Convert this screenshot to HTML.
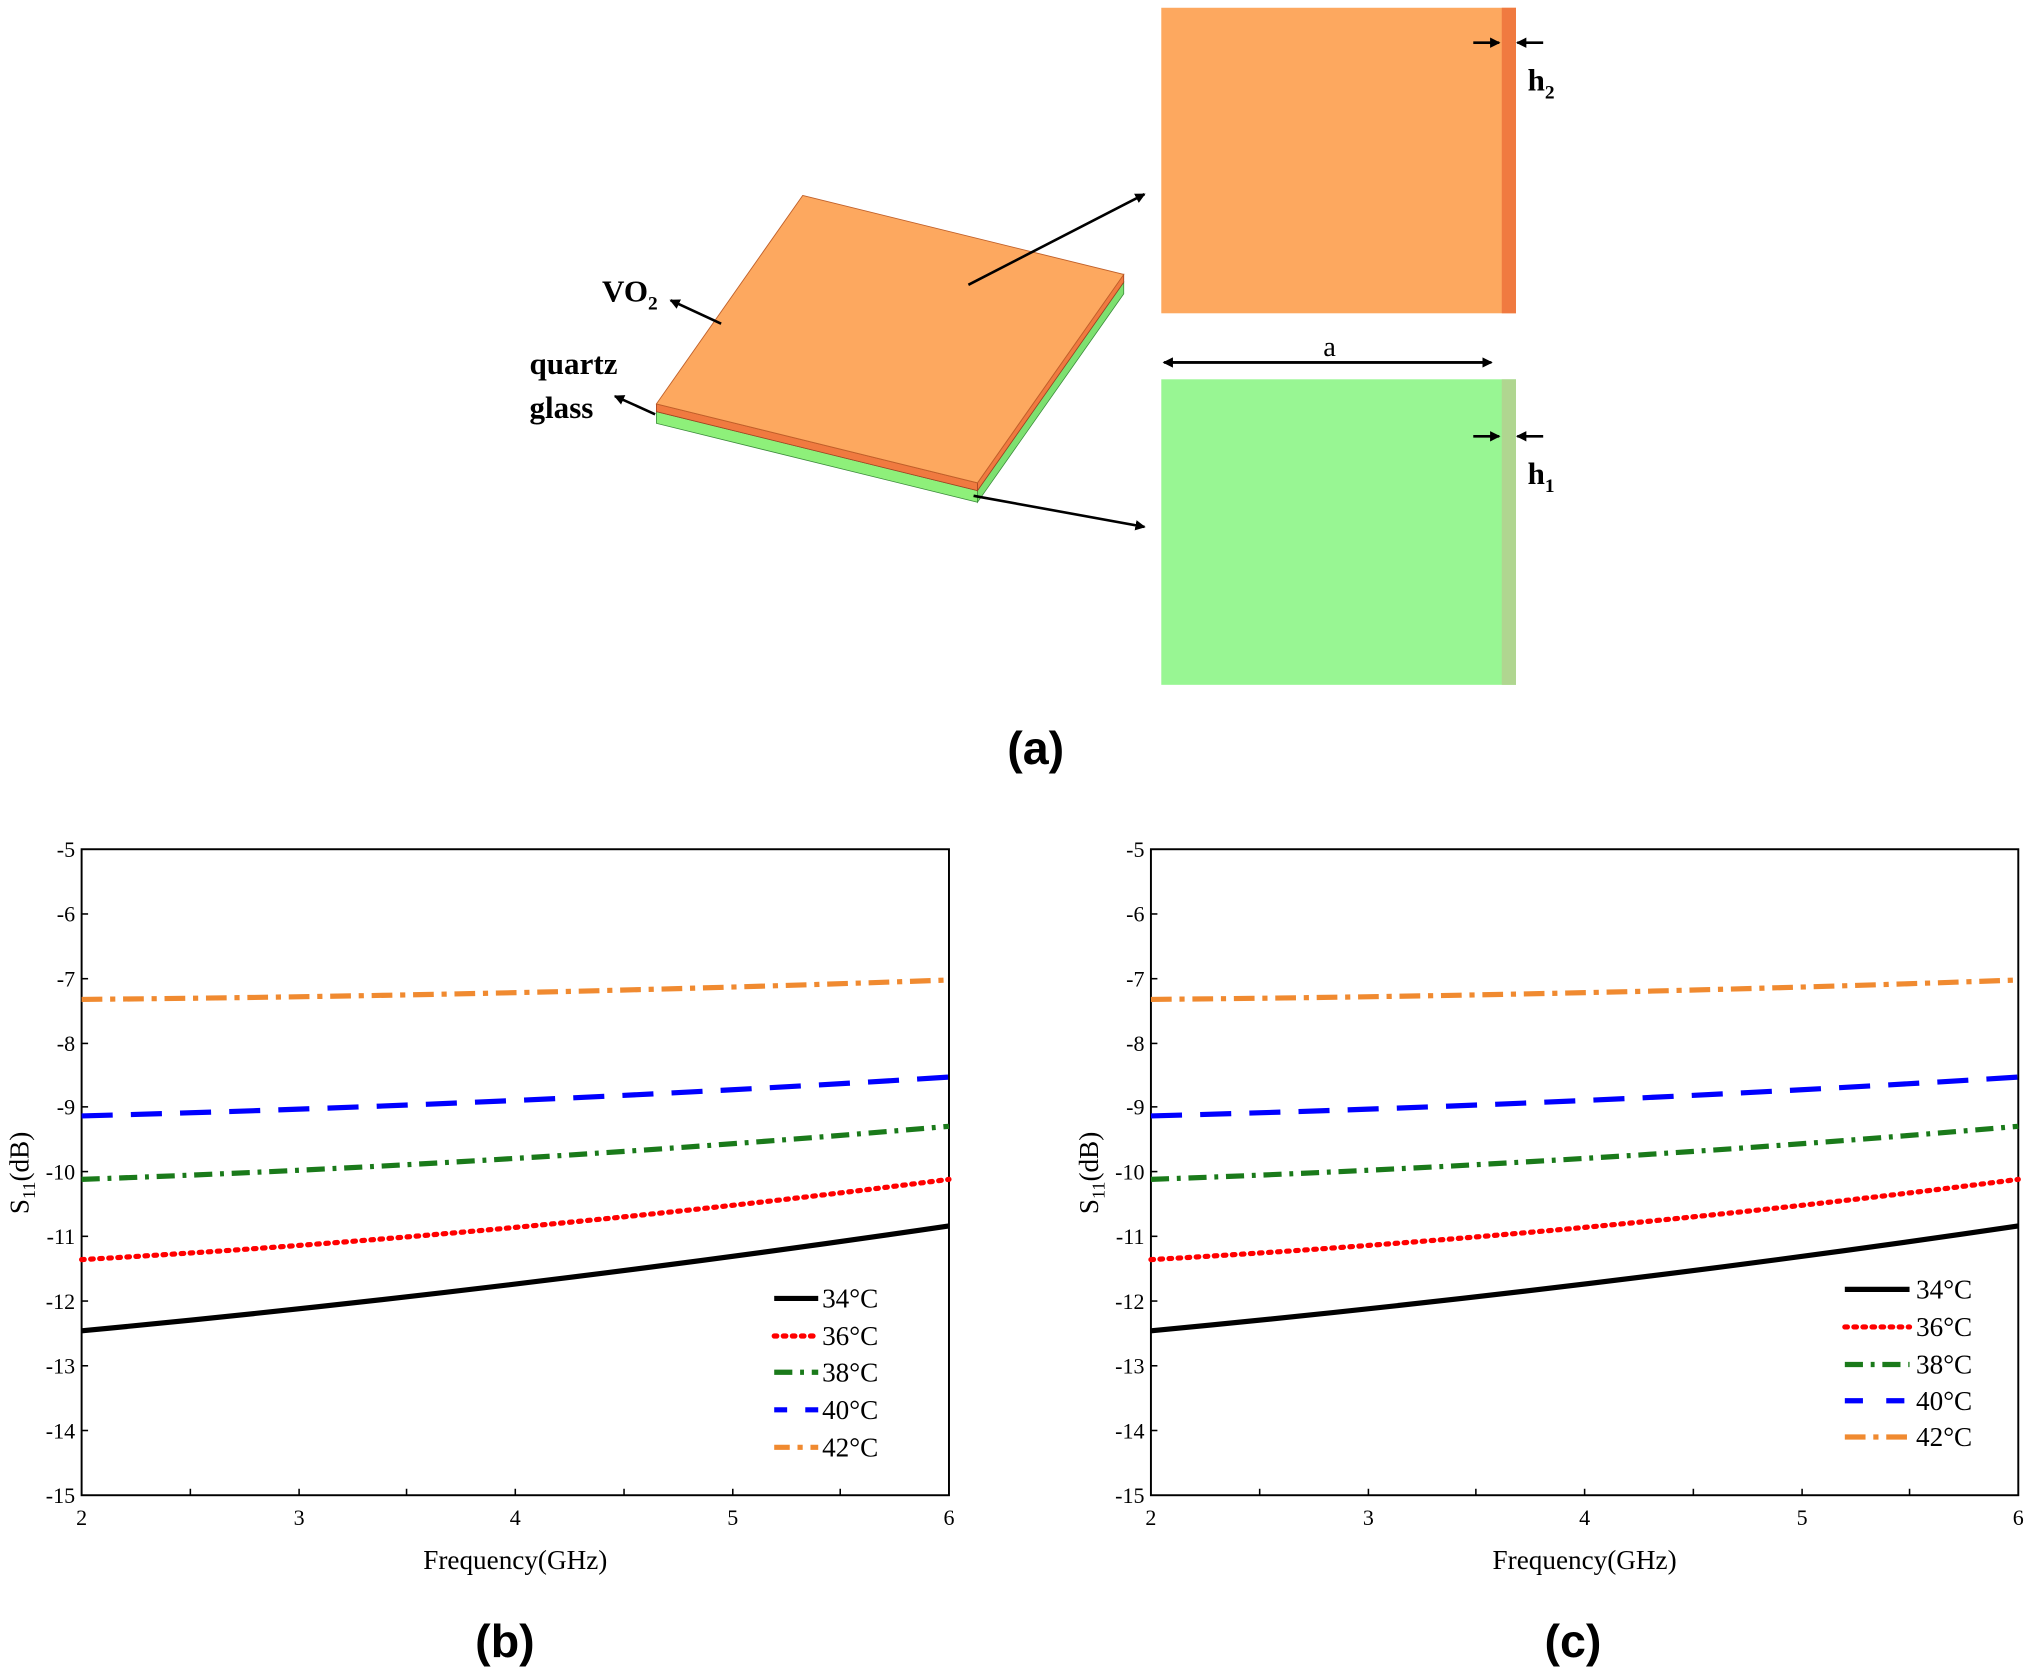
<!DOCTYPE html>
<html><head><meta charset="utf-8"><style>body{margin:0;background:#fff}svg{display:block}</style></head><body>
<svg width="2030" height="1670" viewBox="0 0 1568 1290" xmlns="http://www.w3.org/2000/svg" font-family="Liberation Serif, serif">
<defs>
<marker id="ar" markerWidth="8" markerHeight="8" refX="7" refY="4" orient="auto" markerUnits="userSpaceOnUse"><path d="M0,0 L8,4 L0,8 z" fill="#000"/></marker>
</defs>
<polygon points="507,318 755,379 755,388 507,327" fill="#8ef07a" stroke="#3a8a3a" stroke-width="0.6"/>
<polygon points="755,379 868,218 868,227 755,388" fill="#7de070" stroke="#3a8a3a" stroke-width="0.6"/>
<polygon points="507,312 755,373 755,379 507,318" fill="#f07a40" stroke="#a04020" stroke-width="0.6"/>
<polygon points="755,373 868,212 868,218 755,379" fill="#f07a40" stroke="#a04020" stroke-width="0.6"/>
<polygon points="620,151 868,212 755,373 507,312" fill="#fda85f" stroke="#c0602a" stroke-width="0.7"/>
<line x1="748" y1="220" x2="884" y2="150" stroke="#000" stroke-width="2" marker-end="url(#ar)"/>
<line x1="752" y1="383" x2="884" y2="407" stroke="#000" stroke-width="2" marker-end="url(#ar)"/>
<line x1="557" y1="250" x2="518" y2="232" stroke="#000" stroke-width="2" marker-end="url(#ar)"/>
<line x1="506" y1="320" x2="475" y2="306" stroke="#000" stroke-width="2" marker-end="url(#ar)"/>
<text x="465" y="233" font-size="24" font-weight="bold">VO<tspan font-size="15" dy="6">2</tspan></text>
<text x="409" y="289" font-size="24" font-weight="bold">quartz</text>
<text x="409" y="323" font-size="24" font-weight="bold">glass</text>
<rect x="897" y="6" width="274" height="236" fill="#fda85f"/>
<rect x="1160" y="6" width="11" height="236" fill="#f07a40"/>
<rect x="897" y="293" width="274" height="236" fill="#98f693"/>
<rect x="1160" y="293" width="11" height="236" fill="#b0d690"/>
<line x1="1138" y1="33" x2="1158" y2="33" stroke="#000" stroke-width="2" marker-end="url(#ar)"/>
<line x1="1192" y1="33" x2="1172" y2="33" stroke="#000" stroke-width="2" marker-end="url(#ar)"/>
<line x1="1138" y1="337" x2="1158" y2="337" stroke="#000" stroke-width="2" marker-end="url(#ar)"/>
<line x1="1192" y1="337" x2="1172" y2="337" stroke="#000" stroke-width="2" marker-end="url(#ar)"/>
<text x="1180" y="70" font-size="24" font-weight="bold">h<tspan font-size="15" dy="6">2</tspan></text>
<text x="1180" y="374" font-size="24" font-weight="bold">h<tspan font-size="15" dy="6">1</tspan></text>
<line x1="905" y1="280" x2="1152" y2="280" stroke="#000" stroke-width="2" marker-end="url(#ar)"/>
<line x1="1150" y1="280" x2="899" y2="280" stroke="#000" stroke-width="2" marker-end="url(#ar)"/>
<text x="1027" y="275" font-size="22" text-anchor="middle">a</text>
<text x="800" y="590" font-size="36" font-weight="bold" font-family="Liberation Sans, sans-serif" text-anchor="middle">(a)</text>
<text x="390" y="1280" font-size="36" font-weight="bold" font-family="Liberation Sans, sans-serif" text-anchor="middle">(b)</text>
<text x="1215" y="1280" font-size="36" font-weight="bold" font-family="Liberation Sans, sans-serif" text-anchor="middle">(c)</text>

<g id="pb">
<rect x="63" y="656" width="670" height="499" fill="none" stroke="#000" stroke-width="1.5"/>
<g stroke="#000" stroke-width="1.2">
<line x1="63" y1="706" x2="68" y2="706"/><line x1="63" y1="756" x2="68" y2="756"/><line x1="63" y1="806" x2="68" y2="806"/><line x1="63" y1="855" x2="68" y2="855"/><line x1="63" y1="905" x2="68" y2="905"/><line x1="63" y1="955" x2="68" y2="955"/><line x1="63" y1="1005" x2="68" y2="1005"/><line x1="63" y1="1055" x2="68" y2="1055"/><line x1="63" y1="1105" x2="68" y2="1105"/>
<line x1="147" y1="1155" x2="147" y2="1150"/><line x1="231" y1="1155" x2="231" y2="1150"/><line x1="314" y1="1155" x2="314" y2="1150"/><line x1="398" y1="1155" x2="398" y2="1150"/><line x1="482" y1="1155" x2="482" y2="1150"/><line x1="566" y1="1155" x2="566" y2="1150"/><line x1="649" y1="1155" x2="649" y2="1150"/>
</g>
<g font-size="17" text-anchor="end">
<text x="58" y="662">-5</text><text x="58" y="712">-6</text><text x="58" y="762">-7</text><text x="58" y="812">-8</text><text x="58" y="861">-9</text><text x="58" y="911">-10</text><text x="58" y="961">-11</text><text x="58" y="1011">-12</text><text x="58" y="1061">-13</text><text x="58" y="1111">-14</text><text x="58" y="1161">-15</text>
</g>
<g font-size="17" text-anchor="middle">
<text x="63" y="1178">2</text><text x="231" y="1178">3</text><text x="398" y="1178">4</text><text x="566" y="1178">5</text><text x="733" y="1178">6</text>
</g>
<text x="398" y="1212" font-size="21" text-anchor="middle">Frequency(GHz)</text>
<text transform="translate(22,906) rotate(-90)" font-size="21" text-anchor="middle">S<tspan font-size="14" dy="5">11</tspan><tspan dy="-5">(dB)</tspan></text>
<g fill="none" stroke-width="4">
<path d="M63,1028 Q400,996 733,947" stroke="#000"/>
<path d="M63,973 Q400,954 733,911" stroke="#f00" stroke-dasharray="2 5" stroke-linecap="round"/>
<path d="M63,911 Q400,899 733,870" stroke="#1a7a1a" stroke-dasharray="14 6 3 6"/>
<path d="M63,862 Q400,853 733,832" stroke="#00f" stroke-dasharray="24 14"/>
<path d="M63,772 Q400,769 733,757" stroke="#f08a30" stroke-dasharray="16 6 4 6"/>
</g>
</g>
<g fill="none" stroke-width="4">
<line x1="598" y1="1003" x2="632" y2="1003" stroke="#000"/>
<line x1="598" y1="1032" x2="632" y2="1032" stroke="#f00" stroke-dasharray="2 5" stroke-linecap="round"/>
<line x1="598" y1="1060" x2="632" y2="1060" stroke="#1a7a1a" stroke-dasharray="14 6 3 6"/>
<line x1="598" y1="1089" x2="632" y2="1089" stroke="#00f" stroke-dasharray="10 14"/>
<line x1="598" y1="1118" x2="632" y2="1118" stroke="#f08a30" stroke-dasharray="12 6 4 6"/>
</g>
<g font-size="21"><text x="635" y="1010">34°C</text><text x="635" y="1039">36°C</text><text x="635" y="1067">38°C</text><text x="635" y="1096">40°C</text><text x="635" y="1125">42°C</text></g>

<use href="#pb" transform="translate(826,0)"/>
<rect x="1420" y="985" width="125" height="140" fill="#fff"/>
<g fill="none" stroke-width="4">
<line x1="1425" y1="996" x2="1475" y2="996" stroke="#000"/>
<line x1="1425" y1="1025" x2="1475" y2="1025" stroke="#f00" stroke-dasharray="2 5" stroke-linecap="round"/>
<line x1="1425" y1="1054" x2="1475" y2="1054" stroke="#1a7a1a" stroke-dasharray="14 6 3 6"/>
<line x1="1425" y1="1082" x2="1475" y2="1082" stroke="#00f" stroke-dasharray="14 18"/>
<line x1="1425" y1="1110" x2="1475" y2="1110" stroke="#f08a30" stroke-dasharray="16 6 4 6"/>
</g>
<g font-size="21"><text x="1480" y="1003">34°C</text><text x="1480" y="1032">36°C</text><text x="1480" y="1061">38°C</text><text x="1480" y="1089">40°C</text><text x="1480" y="1117">42°C</text></g>
</svg>
</body></html>
